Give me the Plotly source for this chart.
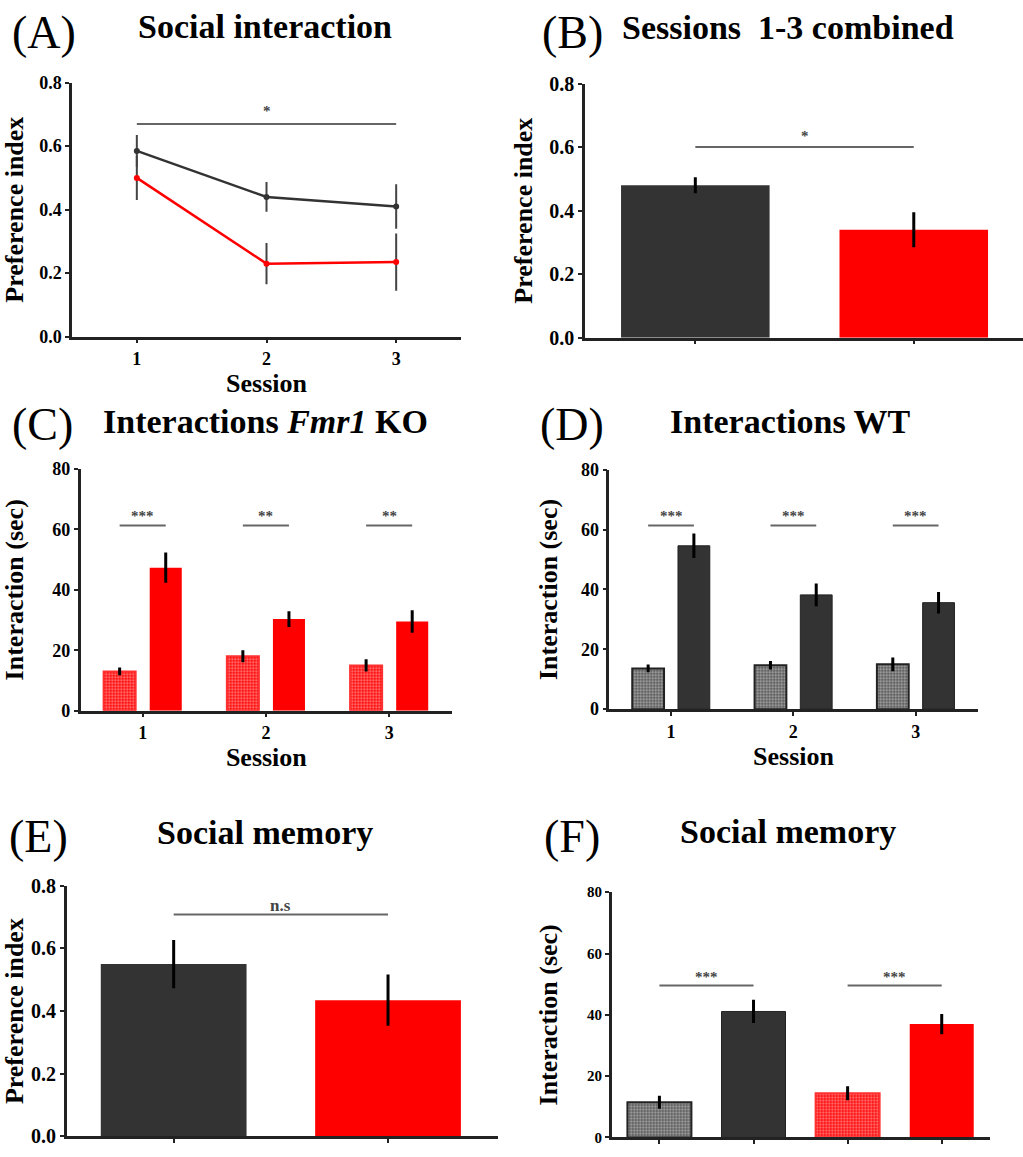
import plotly.graph_objects as go

W, H = 1023, 1157
FONT = "Liberation Serif"
DARK = "#333333"
RED = "#ff0000"
AX = "#222222"

# ---------------- data ----------------
sessions = [1, 2, 3]
sessions_lbl = ["1", "2", "3"]

# (A) preference index per session
a_wt = [0.585, 0.44, 0.41]
a_wt_err = [0.05, 0.047, 0.07]
a_ko = [0.50, 0.23, 0.235]
a_ko_err = [0.07, 0.065, 0.09]

# (B) sessions 1-3 combined
b_groups = ["WT", "Fmr1 KO"]
b_vals = [0.48, 0.34]
b_err = [0.025, 0.055]

# (C) Fmr1 KO interactions (object vs social)
c_obj = [13.0, 18.0, 15.0]
c_obj_err = [1.3, 2.0, 2.0]
c_soc = [47.3, 30.3, 29.5]
c_soc_err = [5.0, 2.6, 3.7]

# (D) WT interactions
d_obj = [13.6, 14.7, 15.0]
d_obj_err = [1.3, 1.4, 2.3]
d_soc = [54.6, 38.2, 35.6]
d_soc_err = [4.1, 3.8, 3.6]

# (E) social memory preference index
e_vals = [0.55, 0.435]
e_err = [0.077, 0.082]

# (F) social memory interaction
f_cats = ["WT familiar", "WT novel", "KO familiar", "KO novel"]
f_vals = [11.5, 41.1, 14.4, 37.0]
f_err = [2.1, 3.8, 2.3, 3.3]

# significance annotations
a_sig = {"x0": 1, "x1": 3, "y": 0.67, "ty": 0.71, "text": "*"}
b_sig = {"x0": 0, "x1": 1, "y": 0.60, "ty": 0.635, "text": "*"}
c_sig_y, c_sig_ty, c_sig_txt = 61.3, 64.4, ["***", "**", "**"]
d_sig_y, d_sig_ty, d_sig_txt = 61.4, 64.4, ["***", "***", "***"]
e_sig = {"x0": 0, "x1": 1, "y": 0.708, "ty": 0.736, "text": "n.s"}
f_sig_pairs = [(0, 1), (2, 3)]
f_sig_y, f_sig_ty, f_sig_txt = 49.6, 52.4, ["***", "***"]


def px(x):
    return x / W


def py(y):
    return 1 - y / H


fig = go.Figure()

ERR = dict(type="data", width=0, thickness=3, color="black", visible=True)

# ---- A: line chart ----
fig.add_trace(go.Scatter(x=sessions, y=a_wt, mode="lines+markers",
                         line=dict(color=DARK, width=2.5), marker=dict(size=6, color=DARK),
                         error_y=dict(ERR, array=a_wt_err, thickness=2, color="#444"),
                         xaxis="x", yaxis="y", showlegend=False))
fig.add_trace(go.Scatter(x=sessions, y=a_ko, mode="lines+markers",
                         line=dict(color=RED, width=2.5), marker=dict(size=6, color=RED),
                         error_y=dict(ERR, array=a_ko_err, thickness=2, color="#444"),
                         xaxis="x", yaxis="y", showlegend=False))

# ---- B ----
fig.add_trace(go.Bar(x=[0, 1], y=b_vals, width=0.68,
                     marker=dict(color=[DARK, RED], line=dict(width=0)),
                     error_y=dict(ERR, array=b_err),
                     xaxis="x2", yaxis="y2", showlegend=False))

OFF = 0.187
BW = 0.26


def hatched(bg, outline):
    return dict(color=bg, line=dict(color=outline, width=2),
                pattern=dict(shape=".", fgcolor="white", bgcolor=bg, size=3, solidity=0.45))


# ---- C ----
fig.add_trace(go.Bar(x=sessions, y=c_obj, width=BW, offset=-OFF - BW / 2,
                     marker=hatched(RED, "#ff3030"),
                     error_y=dict(ERR, array=c_obj_err),
                     xaxis="x3", yaxis="y3", showlegend=False))
fig.add_trace(go.Bar(x=sessions, y=c_soc, width=BW, offset=OFF - BW / 2,
                     marker=dict(color=RED, line=dict(width=0)),
                     error_y=dict(ERR, array=c_soc_err),
                     xaxis="x3", yaxis="y3", showlegend=False))

# ---- D ----
fig.add_trace(go.Bar(x=sessions, y=d_obj, width=BW, offset=-OFF - BW / 2,
                     marker=hatched("#555555", AX),
                     error_y=dict(ERR, array=d_obj_err),
                     xaxis="x4", yaxis="y4", showlegend=False))
fig.add_trace(go.Bar(x=sessions, y=d_soc, width=BW, offset=OFF - BW / 2,
                     marker=dict(color=DARK, line=dict(color=AX, width=1)),
                     error_y=dict(ERR, array=d_soc_err),
                     xaxis="x4", yaxis="y4", showlegend=False))

# ---- E ----
fig.add_trace(go.Bar(x=[0, 1], y=e_vals, width=0.68,
                     marker=dict(color=[DARK, RED], line=dict(width=0)),
                     error_y=dict(ERR, array=e_err),
                     xaxis="x5", yaxis="y5", showlegend=False))

# ---- F ----
f_x = list(range(len(f_cats)))
fig.add_trace(go.Bar(x=[f_x[0]], y=[f_vals[0]], width=0.68, marker=hatched("#555555", AX),
                     error_y=dict(ERR, array=[f_err[0]]), xaxis="x6", yaxis="y6", showlegend=False))
fig.add_trace(go.Bar(x=[f_x[1]], y=[f_vals[1]], width=0.68,
                     marker=dict(color=DARK, line=dict(color=AX, width=1)),
                     error_y=dict(ERR, array=[f_err[1]]), xaxis="x6", yaxis="y6", showlegend=False))
fig.add_trace(go.Bar(x=[f_x[2]], y=[f_vals[2]], width=0.68, marker=hatched(RED, "#ff3030"),
                     error_y=dict(ERR, array=[f_err[2]]), xaxis="x6", yaxis="y6", showlegend=False))
fig.add_trace(go.Bar(x=[f_x[3]], y=[f_vals[3]], width=0.68,
                     marker=dict(color=RED, line=dict(width=0)),
                     error_y=dict(ERR, array=[f_err[3]]), xaxis="x6", yaxis="y6", showlegend=False))


# ---------------- axes ----------------
def xax(dom, rng, tickvals, ticktext=None, title=None, standoff=2, show=True, size=18):
    d = dict(domain=dom, range=rng, showline=True, linecolor=AX, linewidth=2.5,
             ticks="outside", ticklen=4, tickwidth=2, tickcolor=AX,
             tickvals=tickvals, showgrid=False, zeroline=False, fixedrange=True,
             showticklabels=show,
             tickfont=dict(family=FONT, size=size, color="black", weight="bold"))
    if ticktext is not None:
        d["ticktext"] = ticktext
    if title:
        d["title"] = dict(text=title, standoff=standoff,
                          font=dict(family=FONT, size=26, color="black", weight="bold"))
    return d


def yax(dom, rng, dtick, fmt, title, standoff, anchor, size=18):
    return dict(domain=dom, range=rng, showline=True, linecolor=AX, linewidth=2.5,
                ticks="outside", ticklen=4, tickwidth=2, tickcolor=AX,
                dtick=dtick, tick0=0, tickformat=fmt, showgrid=False, zeroline=False,
                fixedrange=True, anchor=anchor,
                tickfont=dict(family=FONT, size=size, color="black", weight="bold"),
                title=dict(text=title, standoff=standoff,
                           font=dict(family=FONT, size=26, color="black", weight="bold")))


fig.update_layout(
    xaxis=dict(xax([px(72), px(461)], [0.5, 3.5], sessions, sessions_lbl, "Session", 2), anchor="y"),
    yaxis=yax([py(332), py(73)], [0, 0.8], 0.2, ".1f", "Preference index", 12, "x"),
    xaxis2=dict(xax([px(585), 1.0], [-0.505, 1.5], [0, 1], show=False), anchor="y2"),
    yaxis2=yax([py(333), py(74)], [0, 0.8], 0.2, ".1f", "Preference index", 10, "x2", size=20),
    xaxis3=dict(xax([px(80.7), px(452)], [0.497, 3.51], sessions, sessions_lbl, "Session", 2), anchor="y3"),
    yaxis3=yax([py(713.3), py(466.7)], [0, 80], 20, "d", "Interaction (sec)", 24, "x3"),
    xaxis4=dict(xax([px(609.3), px(977.7)], [0.4955, 3.507], sessions, sessions_lbl, "Session", 2), anchor="y4"),
    yaxis4=yax([py(711.7), py(467.7)], [0, 80], 20, "d", "Interaction (sec)", 16, "x4"),
    xaxis5=dict(xax([px(66.7), px(498)], [-0.499, 1.513], [0, 1], show=False), anchor="y5"),
    yaxis5=yax([py(1147.3), py(891.7)], [0, 0.8], 0.2, ".1f", "Preference index", 2, "x5", size=20),
    xaxis6=dict(xax([px(611.7), px(990)], [-0.507, 3.513], f_x, show=False), anchor="y6"),
    yaxis6=yax([py(1148.3), py(898.3)], [0, 80], 20, "d", "Interaction (sec)", 22, "x6", size=15),
)

# ---------------- significance lines ----------------
SIG_COL = "#666666"
shapes = []
annos = []


def sig(xr, yr, x0, x1, y, ty, text, size=15):
    shapes.append(dict(type="line", xref=xr, yref=yr, x0=x0, x1=x1, y0=y, y1=y,
                       line=dict(color=SIG_COL, width=2)))
    annos.append(dict(xref=xr, yref=yr, x=(x0 + x1) / 2, y=ty, text=text, showarrow=False,
                      font=dict(family=FONT, size=size, color="#444", weight="bold")))


sig("x", "y", a_sig["x0"], a_sig["x1"], a_sig["y"], a_sig["ty"], a_sig["text"])
sig("x2", "y2", b_sig["x0"], b_sig["x1"], b_sig["y"], b_sig["ty"], b_sig["text"])
for s, t in zip(sessions, c_sig_txt):
    sig("x3", "y3", s - OFF, s + OFF, c_sig_y, c_sig_ty, t)
for s, t in zip(sessions, d_sig_txt):
    sig("x4", "y4", s - OFF, s + OFF, d_sig_y, d_sig_ty, t)
sig("x5", "y5", e_sig["x0"], e_sig["x1"], e_sig["y"], e_sig["ty"], e_sig["text"], size=17)
for (a, b), t in zip(f_sig_pairs, f_sig_txt):
    sig("x6", "y6", a, b, f_sig_y, f_sig_ty, t)

# ---------------- panel titles ----------------
panel_titles = [
    ("(A)", 44, 22, "Social interaction", 265, 16),
    ("(B)", 572, 22, "Sessions&nbsp;&nbsp;1-3 combined", 788, 17),
    ("(C)", 42, 422, "Interactions <i>Fmr1</i> KO", 265, 418),
    ("(D)", 572, 422, "Interactions WT", 790, 418),
    ("(E)", 38, 841, "Social memory", 265, 837),
    ("(F)", 572, 841, "Social memory", 788, 836),
]
for letter, lx, ly, title, tx, ty in panel_titles:
    annos.append(dict(xref="paper", yref="paper", x=px(lx), y=py(ly), text=letter,
                      showarrow=False, xanchor="center", yanchor="middle",
                      font=dict(family=FONT, size=46, color="black")))
    annos.append(dict(xref="paper", yref="paper", x=px(tx), y=py(ty), text=title,
                      showarrow=False, xanchor="center", yanchor="middle",
                      font=dict(family=FONT, size=34, color="black", weight="bold")))

fig.update_layout(
    width=W, height=H, margin=dict(l=0, r=0, t=0, b=0),
    paper_bgcolor="white", plot_bgcolor="white",
    barmode="overlay", showlegend=False,
    shapes=shapes, annotations=annos,
)

fig.write_html("out.html")
